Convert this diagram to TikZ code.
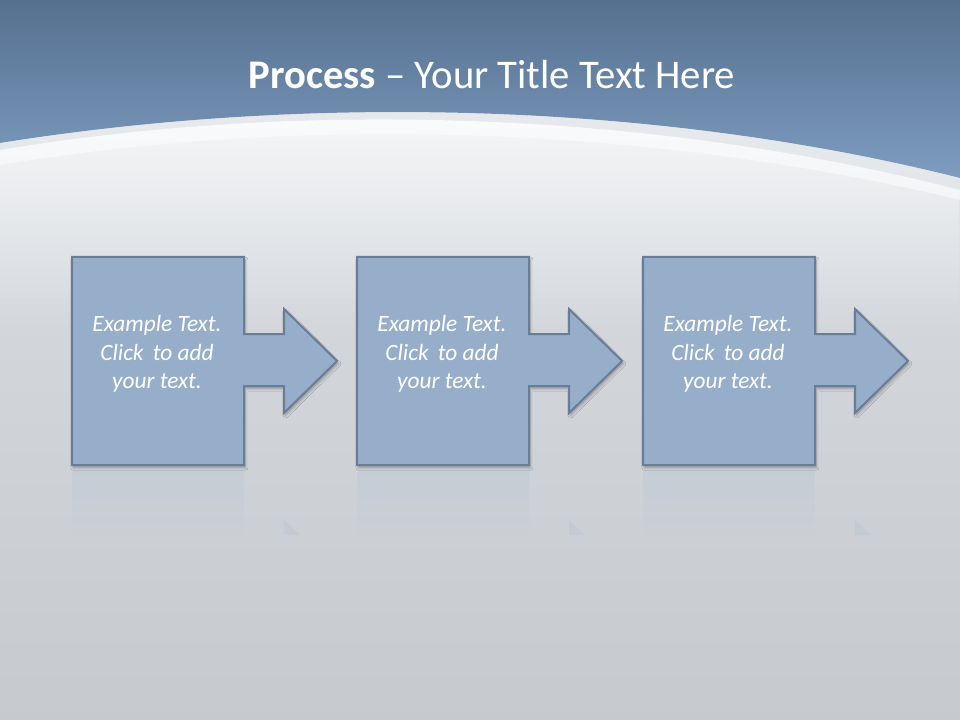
\documentclass[tikz,border=0pt]{standalone}
\usepackage{fontspec}
\setmainfont{Carlito}
\usetikzlibrary{shadows.blur,fadings}
\definecolor{boxfill}{HTML}{97AECB}
\definecolor{boxline}{HTML}{6A7D96}
\definecolor{topA}{HTML}{56708F}
\definecolor{topB}{HTML}{7D9CC0}
\definecolor{bgA}{HTML}{DDE1E6}
\definecolor{bgB}{HTML}{C6CACF}
\tikzset{
  procbox/.style={fill=boxfill, draw=boxline, line width=1.5pt},
  reflect/.style={fill=boxfill, opacity=0.15},
  boxtext/.style={text=white, font=\itshape\fontsize{17.5}{21.5}\selectfont, align=center}
}
\newcommand{\procshape}[1]{(#1+72,257)--(#1+244,257)--(#1+244,334)--(#1+284,334)--(#1+284,309)--(#1+337,361)--(#1+284,413)--(#1+284,386)--(#1+244,386)--(#1+244,465)--(#1+72,465)--cycle}
\begin{document}
\begin{tikzpicture}[x=0.75pt,y=-0.75pt]
\useasboundingbox (0,0) rectangle (960,720);
\shade[top color=bgA, bottom color=bgB] (0,0) rectangle (960,720);
\fill[white, path fading=south, opacity=0.8] (0,150) .. controls (300,100) and (650,110) .. (960,190) -- (960,330) -- (0,330) -- cycle;
\fill[white, opacity=0.5] (0,150) .. controls (300,100) and (650,110) .. (960,190) -- (960,200) .. controls (650,125) and (300,115) .. (0,165) -- cycle;
\shade[top color=topA, bottom color=topB] (0,0) -- (960,0) -- (960,178) .. controls (650,100) and (300,95) .. (0,143) -- cycle;
\fill[white, opacity=0.35] (0,143) .. controls (300,95) and (650,100) .. (960,178) -- (960,190) .. controls (650,110) and (300,100) .. (0,150) -- cycle;
\node[text=white, font=\fontsize{30.5}{34}\selectfont] (title) at (492,75) {\textbf{Process} – Your Title Text Here};
\foreach \dx/\nm in {0/a,285/b,571/c}{
  \fill[reflect, path fading=south] (\dx+72,470) rectangle (\dx+244,535);
  \fill[reflect] (\dx+284,520) -- (\dx+300,535) -- (\dx+284,535) -- cycle;
  \draw[procbox, blur shadow={shadow xshift=1pt, shadow yshift=-2pt, shadow opacity=30}] \procshape{\dx};
  \node[boxtext] (\nm) at (\dx+157,354) {Example Text.\\Click\, to add\\your text.};
}
\end{tikzpicture}
\end{document}
